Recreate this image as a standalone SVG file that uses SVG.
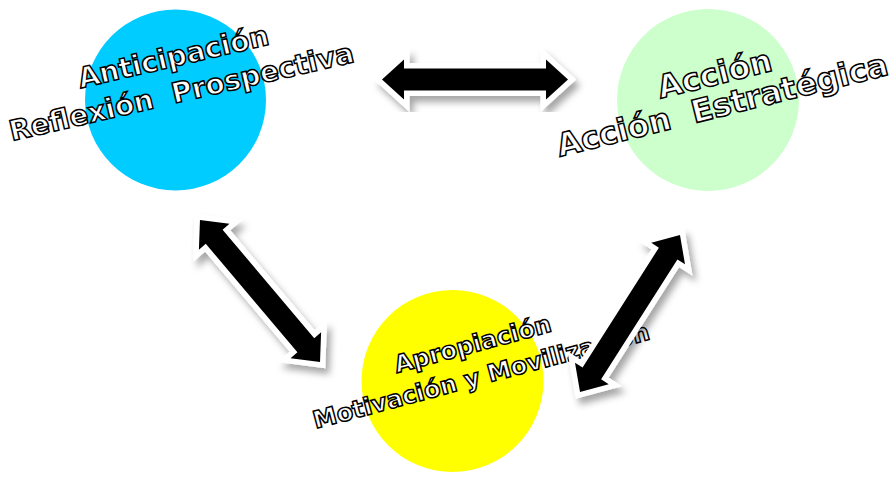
<svg xmlns="http://www.w3.org/2000/svg" width="896" height="487" viewBox="0 0 896 487">
<defs>
<style>
.lbl{font-family:"DejaVu Sans","Verdana",sans-serif;font-weight:bold;fill:#fff;stroke:#000;stroke-width:1.5;text-anchor:middle;white-space:pre}
.arr{fill:#000;stroke:#fff;stroke-width:11;stroke-linejoin:miter;stroke-miterlimit:4;paint-order:stroke}
</style>
<filter id="sh" x="-30%" y="-30%" width="160%" height="160%">
<feDropShadow dx="4" dy="6" stdDeviation="3.5" flood-color="#000" flood-opacity="0.35"/>
</filter>
<polygon id="dbl" points="-93,0 -71,-20 -71,-11 71,-11 71,-20 93,0 71,20 71,11 -71,11 -71,20"/>
</defs>
<rect width="896" height="487" fill="#fff"/>
<g id="anticipacion">
<circle cx="175.5" cy="100" r="90.5" fill="#00CCFF"/>
<g transform="translate(179.5,83.8) rotate(-13)">
<text class="lbl" x="0" y="-18" font-size="28">Anticipación</text>
<text class="lbl" x="0" y="18" font-size="28" xml:space="preserve">Reflexión  Prospectiva</text>
</g>
</g>
<g id="accion">
<circle cx="708" cy="100" r="91" fill="#CCFFCC"/>
<g transform="translate(721,100) rotate(-14)">
<text class="lbl" x="0" y="-16" font-size="31.5">Acción</text>
<text class="lbl" x="0" y="16" font-size="31.5" xml:space="preserve">Acción  Estratégica</text>
</g>
</g>
<g id="apropiacion">
<circle cx="452.5" cy="381" r="91" fill="#FFFF00"/>
<g transform="translate(479,368) rotate(-15)">
<text class="lbl" x="0" y="-16.5" font-size="24">Apropiación</text>
<text class="lbl" x="0" y="16.5" font-size="24">Motivación y Movilización</text>
</g>
</g>
<g id="connectors">
<g filter="url(#sh)"><use href="#dbl" class="arr" transform="translate(475,79.5)"/></g>
<g filter="url(#sh)"><use href="#dbl" class="arr" transform="translate(260,291) rotate(49.8)"/></g>
<g filter="url(#sh)"><use href="#dbl" class="arr" transform="translate(630,313.5) rotate(-57.5)"/></g>
</g>
</svg>
